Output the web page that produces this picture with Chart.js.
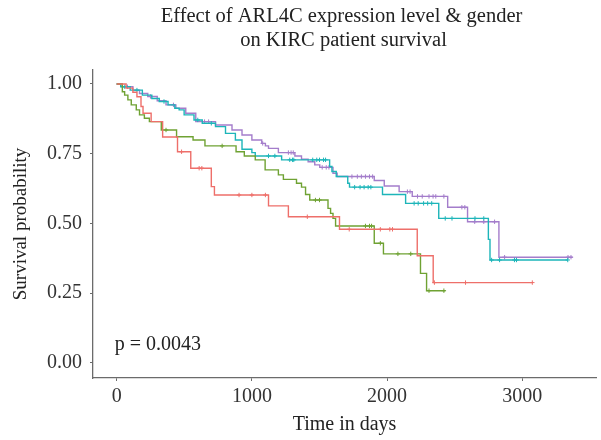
<!DOCTYPE html>
<html lang="en">
<head>
  <meta charset="UTF-8">
  <title>ARL4C KIRC survival</title>
  <script src="https://cdn.jsdelivr.net/npm/chart.js"></script>
  <style>
    body { margin: 0; background: #fff; }
    #chart { display: block; }
  </style>
</head>
<body>
  <canvas id="chart" width="601" height="440"></canvas>

  <script>
    // step points (time in days, survival after that time)
    const redTime = [0, 70, 120, 150, 180, 195, 255, 340, 450, 548, 700, 723, 1123, 1270, 1648, 2223, 2341, 3074];
    const redSurv = [1.0, 0.985, 0.97, 0.954, 0.919, 0.895, 0.865, 0.81, 0.757, 0.698, 0.632, 0.602, 0.563, 0.524, 0.479, 0.384, 0.288, 0.288];
    const redCens = [480, 610, 630, 905, 1000, 1100, 1410, 1720, 1950, 2020, 2040, 2350, 2580, 3074];

    const greenTime = [0, 42, 59, 83, 108, 145, 169, 205, 242, 330, 443, 565, 653, 883, 944, 1025, 1098, 1196, 1233, 1330, 1367, 1397, 1428, 1563, 1582, 1600, 1619, 1905, 1973, 2247, 2292, 2431];
    const greenSurv = [1.0, 0.972, 0.96, 0.943, 0.925, 0.907, 0.889, 0.877, 0.865, 0.835, 0.811, 0.799, 0.778, 0.757, 0.742, 0.728, 0.692, 0.674, 0.658, 0.644, 0.63, 0.604, 0.584, 0.554, 0.536, 0.518, 0.491, 0.429, 0.391, 0.321, 0.259, 0.259];
    const greenCens = [365, 780, 1470, 1500, 1840, 1870, 1885, 1950, 2080, 2175, 2310, 2420];

    const tealTime = [0, 30, 100, 190, 260, 315, 380, 430, 462, 499, 572, 633, 731, 805, 878, 927, 1000, 1025, 1220, 1575, 1592, 1624, 1709, 1722, 1966, 2137, 2382, 2749, 2761, 3336];
    const tealSurv = [1.0, 0.99, 0.978, 0.96, 0.948, 0.937, 0.925, 0.913, 0.907, 0.889, 0.871, 0.859, 0.847, 0.823, 0.799, 0.766, 0.754, 0.742, 0.728, 0.704, 0.686, 0.668, 0.644, 0.63, 0.604, 0.572, 0.518, 0.443, 0.369, 0.369];
    const tealCens = [60, 150, 350, 600, 700, 1123, 1170, 1280, 1300, 1310, 1450, 1480, 1500, 1530, 1545, 1760, 1800, 1830, 1860, 1880, 2200, 2230, 2270, 2300, 2330, 2430, 2480, 2650, 2715, 2773, 2832, 2942, 2957, 3336];

    const purpleTime = [0, 40, 120, 169, 230, 300, 365, 438, 511, 585, 731, 853, 927, 1000, 1073, 1100, 1123, 1196, 1318, 1367, 1416, 1465, 1502, 1600, 1631, 1905, 1979, 2089, 2186, 2448, 2595, 2827, 3373];
    const purpleSurv = [1.0, 0.99, 0.978, 0.966, 0.955, 0.94, 0.925, 0.913, 0.895, 0.865, 0.853, 0.835, 0.817, 0.799, 0.787, 0.778, 0.769, 0.754, 0.742, 0.73, 0.721, 0.71, 0.701, 0.68, 0.668, 0.654, 0.634, 0.614, 0.597, 0.558, 0.506, 0.379, 0.379];
    const purpleCens = [80, 250, 420, 650, 680, 1080, 1270, 1290, 1306, 1520, 1550, 1570, 1740, 1780, 1810, 1840, 1870, 1893, 2150, 2170, 2225, 2260, 2310, 2340, 2360, 2420, 2553, 2575, 2648, 2715, 2795, 2869, 3338, 3360];

    const xTicks = [0, 1000, 2000, 3000];
    const yTicks = [0, 0.25, 0.5, 0.75, 1.0];
    const pText = 'p = 0.0043';
    const titleLines = ['Effect of ARL4C expression level & gender', 'on KIRC patient survival'];

    const serif = '"Liberation Serif", "DejaVu Serif", serif';

    function steps(times, surv) {
      return times.map((t, i) => ({ x: t, y: surv[i] }));
    }

    function survAt(times, surv, t) {
      let s = surv[0];
      for (let i = 0; i < times.length; i++) {
        if (times[i] <= t) s = surv[i];
      }
      return s;
    }

    function marks(times, surv, cens) {
      return cens.map(t => ({ x: t, y: survAt(times, surv, t) }));
    }

    const groups = [
      { color: '#EE6F6A', t: redTime, s: redSurv, c: redCens },
      { color: '#6FA233', t: greenTime, s: greenSurv, c: greenCens },
      { color: '#1DB5B9', t: tealTime, s: tealSurv, c: tealCens },
      { color: '#A47DCB', t: purpleTime, s: purpleSurv, c: purpleCens }
    ];

    const datasets = [];
    groups.forEach(g => {
      datasets.push({
        data: steps(g.t, g.s),
        showLine: true,
        stepped: 'before',
        borderColor: g.color,
        borderWidth: 1.4,
        pointRadius: 0,
        fill: false
      });
      datasets.push({
        data: marks(g.t, g.s, g.c),
        showLine: false,
        pointStyle: 'cross',
        pointRadius: 2.2,
        borderColor: g.color,
        borderWidth: 1
      });
    });

    const titlePlugin = {
      id: 'titleAndP',
      afterDraw(chart) {
        const ctx = chart.ctx;
        const xs = chart.scales.x, ys = chart.scales.y;
        const mid = (chart.chartArea.left + chart.chartArea.right) / 2;
        ctx.save();
        ctx.fillStyle = '#222';
        ctx.textBaseline = 'middle';
        ctx.textAlign = 'center';
        ctx.font = '20.5px ' + serif;
        ctx.fillText(titleLines[0], mid - 3, 17);
        ctx.fillText(titleLines[1], mid - 1, 41);

        ctx.textAlign = 'left';
        ctx.font = '20px ' + serif;
        ctx.fillText(pText, xs.getPixelForValue(-15), ys.getPixelForValue(0.065));
        ctx.restore();
      }
    };

    const axisColor = '#6b6b6b';
    const tickFont = { family: serif, size: 20 };

    new Chart(document.getElementById('chart'), {
      type: 'scatter',
      data: { datasets },
      plugins: [titlePlugin],
      options: {
        responsive: false,
        animation: false,
        devicePixelRatio: 1,
        layout: { padding: { top: 70, right: 1, left: 0, bottom: 0 } },
        plugins: { legend: { display: false }, tooltip: { enabled: false } },
        scales: {
          x: {
            type: 'linear',
            min: -175,
            max: 3545,
            afterBuildTicks: s => { s.ticks = xTicks.map(v => ({ value: v })); },
            afterFit: s => { s.height = 62; },
            grid: { drawOnChartArea: false, drawTicks: true, tickLength: 3, color: axisColor },
            border: { display: true, color: axisColor, width: 1.3 },
            ticks: { font: tickFont, color: '#333', padding: 4, maxRotation: 0, autoSkip: false, callback: v => String(v) },
            title: { display: true, text: 'Time in days', font: tickFont, color: '#222', padding: { top: 0, bottom: 3 } }
          },
          y: {
            min: -0.054,
            max: 1.05,
            afterBuildTicks: s => { s.ticks = yTicks.map(v => ({ value: v })); },
            afterFit: s => { s.width = 93; },
            grid: { drawOnChartArea: false, drawTicks: true, tickLength: 3, color: axisColor },
            border: { display: true, color: axisColor, width: 1.3 },
            ticks: { font: tickFont, color: '#333', padding: 8, callback: v => v.toFixed(2) },
            title: { display: true, text: 'Survival probability', font: { family: serif, size: 19 }, color: '#222', padding: { top: 10, bottom: 0 } }
          }
        }
      }
    });
  </script>
</body>
</html>
